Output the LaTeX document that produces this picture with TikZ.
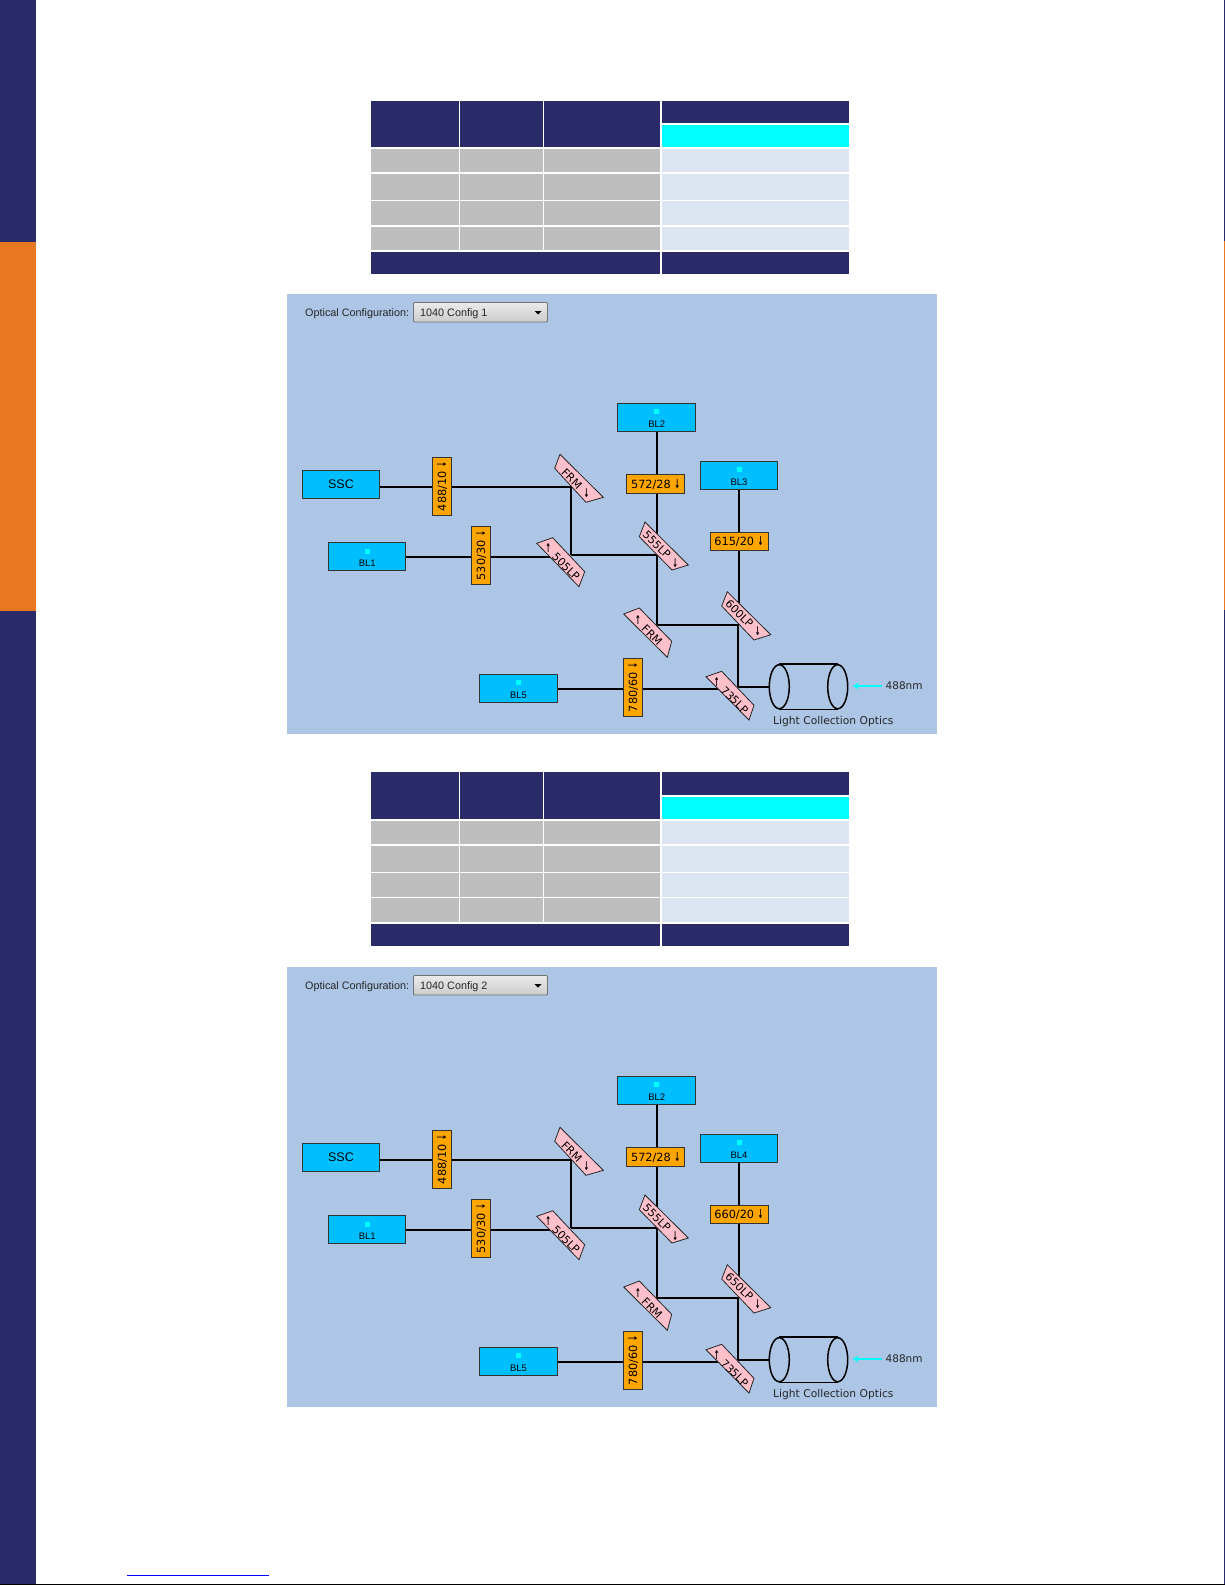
\documentclass[tikz,border=0pt]{standalone}
\usepackage{fontspec}
\setmainfont{Liberation Sans}
\newfontfamily\lab{DejaVu Sans}
\usetikzlibrary{shapes.geometric,arrows.meta}
\pgfdeclarelayer{panelbg}
\pgfdeclarelayer{wires}
\pgfsetlayers{panelbg,wires,main}
\definecolor{navy}{HTML}{2A2B69}
\definecolor{sideorange}{HTML}{E87722}
\definecolor{greycell}{HTML}{BEBEBE}
\definecolor{palecell}{HTML}{DCE6F2}
\definecolor{cyancell}{HTML}{00FFFF}
\definecolor{panelblue}{HTML}{ADC6E5}
\definecolor{detector}{HTML}{00BFFF}
\definecolor{filterorange}{HTML}{FFA500}
\definecolor{mirrorpink}{HTML}{FFC0CB}
\tikzset{
  detbox/.style={draw=black!80,line width=1pt,fill=detector,minimum width=77.5pt,minimum height=28.5pt,inner sep=0pt},
  filterh/.style={draw=black!80,line width=1pt,fill=filterorange,minimum width=58pt,minimum height=18.5pt,inner sep=0pt,font=\lab\fontsize{11.3}{11}\selectfont},
  filterv/.style={filterh,rotate=90},
  mirrorshape/.style={draw=black!85,line width=.8pt,fill=mirrorpink},
  mirrortext/.style={inner sep=0pt,rotate=-45,font=\lab\fontsize{11}{11}\selectfont},
  wire/.style={draw=black,line width=1.9pt},
  thickwire/.style={draw=black,line width=2.2pt},
  smalltext/.style={inner sep=0pt,font=\fontsize{9.5}{10}\selectfont},
  dot/.style={fill=cyancell,minimum size=5pt,inner sep=0pt},
  optics/.style={draw=black,line width=1.5pt,ellipse,minimum width=20pt,minimum height=44pt,inner sep=0pt},
}
\newcommand{\dnarrow}{\scalebox{.62}[1.1]{\bfseries ↓}}
\newcommand{\upc}{\rotatebox[origin=c]{45}{\scalebox{.62}[1.1]{\bfseries ↑}}}
\newcommand{\dnc}{\rotatebox[origin=c]{45}{\scalebox{.62}[1.1]{\bfseries ↓}}}
% table: top, left-bottom, right top bottom, cyan top, rows, footer top, footer bottom
\newcommand{\spectable}[7]{%
  \fill[navy] (371,#1) rectangle (459,#2);
  \fill[navy] (460,#1) rectangle (543,#2);
  \fill[navy] (544,#1) rectangle (660,#2);
  \fill[navy] (662,#1) rectangle (849,#3);
  \fill[cyancell] (662,#4) rectangle (849,#2);
  \foreach \ra/\rb in {#5}{
    \fill[greycell] (371,\ra) rectangle (459,\rb);
    \fill[greycell] (460,\ra) rectangle (543,\rb);
    \fill[greycell] (544,\ra) rectangle (660,\rb);
    \fill[palecell] (662,\ra) rectangle (849,\rb);
  }
  \fill[navy] (371,#6) rectangle (660,#7);
  \fill[navy] (662,#6) rectangle (849,#7);
}
% mirror: name, four corners, label position, label
\newcommand{\mirror}[7]{%
  \draw[mirrorshape] (#2) -- (#3) -- (#4) -- (#5) -- cycle;
  \node[mirrortext] (#1) at (#6) {#7};
}
% detector with dot: name, centre x,y, label
\newcommand{\detector}[4]{%
  \node[detbox] (#1) at (#2,#3) {};
  \node[dot] at (#2,#3-5.5) {};
  \node[smalltext] at (#2,#3+7) {#4};
}
% panel: y shift, config, BL name, band filter, long pass
\newcommand{\opticspanel}[6]{%
\begin{scope}[shift={(0,#1)}]
  \begin{pgfonlayer}{panelbg}
    \fill[panelblue] (287,294) rectangle (937,734);
  \end{pgfonlayer}
  \node[anchor=west,inner sep=0pt,font=\fontsize{10.8}{11}\selectfont,text=black!85] (#6cfg) at (305,313.5) {Optical Configuration:};
  \node[draw=black!55,line width=.8pt,rounded corners=1pt,top color=white!92!black,bottom color=black!20,minimum width=134pt,minimum height=19.5pt,inner sep=0pt] (#6drop) at (480.5,312.2) {};
  \node[anchor=west,inner sep=0pt,font=\fontsize{10.8}{11}\selectfont,text=black!85] at (420,313.5) {#2};
  \fill[black] (534.5,311) -- (541.5,311) -- (538,314.5) -- cycle;
  \node[detbox,font=\fontsize{12.5}{13}\selectfont] (#6ssc) at (341,484.3) {SSC};
  \detector{#6bl1}{367.2}{556.5}{BL1}
  \detector{#6bl2}{656.7}{417.3}{BL2}
  \detector{#6blx}{739}{475.3}{#3}
  \detector{#6bl5}{518.5}{688.3}{BL5}
  \node[filterv] (#6f488) at (442,486.5) {488/10 \dnarrow};
  \node[filterv] (#6f530) at (481,555.7) {530/30 \dnarrow};
  \node[filterv] (#6f780) at (633,687.5) {780/60 \dnarrow};
  \node[filterh] (#6f572) at (655.7,484.2) {572/28 \dnarrow};
  \node[filterh] (#6fx) at (739,541.5) {#4 \dnarrow};
  \mirror{#6m1}{560,454.3}{603.3,497.3}{586,502.3}{554.7,468.3}{577,483.5}{FRM \dnc}
  \mirror{#6m2}{536.7,543.3}{552.7,537.7}{584.7,571.7}{579,586.7}{561.5,561.5}{\upc\ 505LP}
  \mirror{#6m3}{645,522}{688.3,565}{672,570}{639.3,536.7}{662,549.5}{555LP \dnc}
  \mirror{#6m4}{639.3,608}{671.7,641.3}{667.3,657.3}{623.7,614}{647.5,630}{\upc\ FRM}
  \mirror{#6m5}{727.3,591.7}{770.7,634.7}{754,640}{721.7,606}{744.5,618}{#5 \dnc}
  \mirror{#6m6}{721.7,671.3}{754,705.3}{749,720}{706,676.7}{730,695}{\upc\ 735LP}
  \node[optics] (#6cl) at (779.3,686.7) {};
  \node[optics] (#6cr) at (837.7,686.7) {};
  \draw[line width=1.5pt] (#6cl.north) -- (#6cr.north);
  \draw[line width=1.5pt] (#6cl.south) -- (#6cr.south);
  \node[anchor=west,inner sep=0pt,font=\lab\fontsize{10.5}{11}\selectfont,text=black!85] (#6laser) at (885.5,686) {488nm};
  \coordinate (#6arrowtip) at (852.7,686);
  \draw[draw=cyancell,line width=1.6pt,-{Stealth[length=6pt,width=7pt]}] (#6laser.west)++(-4,0) -- (#6arrowtip);
  \node[anchor=west,inner sep=0pt,font=\lab\fontsize{10.7}{11}\selectfont,text=black!85] (#6lco) at (773,722) {Light Collection Optics};
  \coordinate (#6j1) at (570.7,487.3);
  \coordinate (#6j2) at (570.7,555);
  \coordinate (#6j3) at (657,625);
  \coordinate (#6j4) at (738.3,625);
  \coordinate (#6j5) at (738.3,687);
  \coordinate (#6e1) at (552,556.7);
  \coordinate (#6e2) at (657,555);
  \coordinate (#6e3) at (739.3,625);
  \coordinate (#6e4) at (720,688.7);
  \begin{pgfonlayer}{wires}
    \draw[wire] (#6ssc.east |- #6j1) -- (#6j1);
    \draw[wire] (#6j1) -- (#6j2);
    \draw[wire] (#6bl1.east |- #6e1) -- (#6e1);
    \draw[wire] (#6j2) -- (#6e2);
    \draw[thickwire] (#6bl2.south -| #6j3) -- (#6j3);
    \draw[wire] (#6blx.south -| #6e3) -- (#6e3);
    \draw[wire] (#6j3) -- (#6j4);
    \draw[wire] (#6j4) -- (#6j5);
    \draw[thickwire] (#6j5) -- (#6cl.west |- #6j5);
    \draw[wire] (#6bl5.east |- #6e4) -- (#6e4);
  \end{pgfonlayer}
\end{scope}}
\begin{document}
\begin{tikzpicture}[x=1pt,y=-1pt]
  \useasboundingbox (0,0) rectangle (1225,1585);
  % side bands
  \fill[navy] (0,0) rectangle (36,242);
  \fill[sideorange] (0,242) rectangle (36,611);
  \fill[navy] (0,611) rectangle (36,1584);
  \fill[navy] (1224,0) rectangle (1225,241);
  \fill[sideorange] (1224,241) rectangle (1225,610);
  \fill[navy] (1224,610) rectangle (1225,1584);
  \fill[black] (0,1584) rectangle (1225,1585);
  \fill[blue] (127,1574.8) rectangle (269,1575.8);
  \spectable{101}{147}{123}{125}{149/172,174/200,201/225,227/250}{252}{274}
  \spectable{772}{819}{795}{797}{821/844,846/872,873/897,898/922}{924}{946}
  \opticspanel{0}{1040 Config 1}{BL3}{615/20}{600LP}{a}
  \opticspanel{673}{1040 Config 2}{BL4}{660/20}{650LP}{b}
\end{tikzpicture}
\end{document}
